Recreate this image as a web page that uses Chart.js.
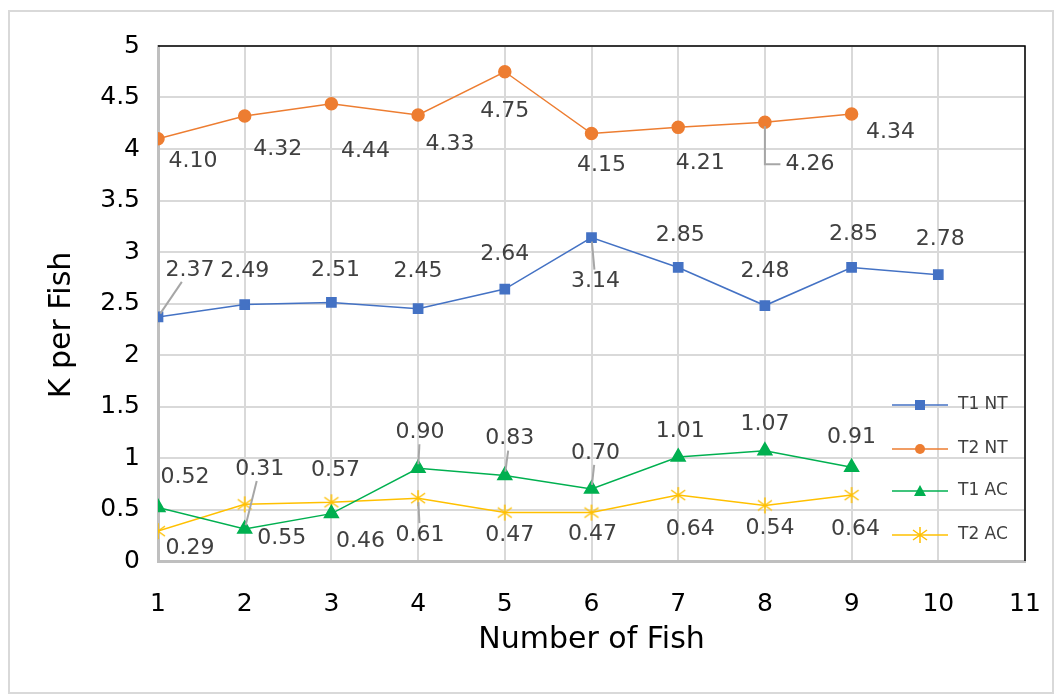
<!DOCTYPE html>
<html>
<head>
<meta charset="utf-8">
<script src="https://cdn.jsdelivr.net/npm/chart.js@4"></script>
<style>
  html, body { margin: 0; padding: 0; background: #fff; }
  #wrap { position: relative; width: 1062px; height: 699px; }
  #frame { position: absolute; left: 8px; top: 10px; width: 1046px; height: 684px; border: 2px solid #d9d9d9; box-sizing: border-box; }
  canvas { position: absolute; left: 0; top: 0; }
</style>
</head>
<body>
<div id="wrap">
  <div id="frame"></div>
  <canvas id="fishChart" width="1062" height="699"></canvas>
</div>
<script>
const fishNumbers = [1, 2, 3, 4, 5, 6, 7, 8, 9, 10];
const t1NT = [2.37, 2.49, 2.51, 2.45, 2.64, 3.14, 2.85, 2.48, 2.85, 2.78];
const t2NT = [4.10, 4.32, 4.44, 4.33, 4.75, 4.15, 4.21, 4.26, 4.34];
const t1AC = [0.52, 0.31, 0.46, 0.90, 0.83, 0.70, 1.01, 1.07, 0.91];
const t2AC = [0.29, 0.55, 0.57, 0.61, 0.47, 0.47, 0.64, 0.54, 0.64];
const seriesNames = ["T1 NT", "T2 NT", "T1 AC", "T2 AC"];

// label offsets from the point (px) and leader style: 0 none, 1 straight, 2 elbow
const labelOffsets = [
  [[32, -47], [0, -33], [4, -32], [0, -37], [0, -35], [4, 44], [2, -32], [0, -34], [2, -33], [2, -35]],
  [[35, 23], [33, 33], [34, 48], [32, 29], [0, 40], [10, 32], [22, 36], [45, 42], [39, 18]],
  [[27, -30], [15, -60], [29, 28], [2, -36], [5, -37], [4, -36], [2, -26], [0, -27], [0, -30]],
  [[32, 17], [37, 34], [4, -32], [2, 37], [5, 23], [1, 22], [12, 34], [5, 23], [4, 34]]
];
const leaders = [
  [1, 0, 0, 0, 0, 1, 0, 0, 0, 0],
  [0, 0, 0, 0, 0, 0, 0, 2, 0],
  [0, 1, 0, 1, 1, 1, 0, 0, 0],
  [0, 0, 0, 1, 0, 0, 0, 0, 0]
];

function toPoints(values) {
  return values.map((v, i) => ({ x: fishNumbers[i], y: v }));
}

// excel-like star marker: vertical bar plus an X
function starMarker(color) {
  const c = document.createElement("canvas");
  c.width = 18; c.height = 18;
  const g = c.getContext("2d");
  g.strokeStyle = color;
  g.lineWidth = 1.5;
  g.beginPath();
  g.moveTo(9, 1); g.lineTo(9, 17);
  g.moveTo(2, 4); g.lineTo(16, 14);
  g.moveTo(16, 4); g.lineTo(2, 14);
  g.stroke();
  return c;
}

const fontFamily = "'DejaVu Sans', Verdana, sans-serif";

const labelPlugin = {
  id: "pointLabels",
  afterDatasetsDraw(chart) {
    const ctx = chart.ctx;
    ctx.save();
    ctx.font = "22px " + fontFamily;
    ctx.textAlign = "center";
    ctx.textBaseline = "middle";
    chart.data.datasets.forEach((ds, di) => {
      const meta = chart.getDatasetMeta(di);
      meta.data.forEach((pt, j) => {
        const off = labelOffsets[di][j];
        const text = ds.data[j].y.toFixed(2);
        const lx = pt.x + off[0];
        const ly = pt.y + off[1];
        const hw = ctx.measureText(text).width / 2 + 3;
        const hh = 12;
        const lead = leaders[di][j];
        ctx.strokeStyle = "#a6a6a6";
        ctx.lineWidth = 2;
        if (lead === 1) {
          const dx = pt.x - lx, dy = pt.y - ly;
          const s = Math.min(Math.abs(hw / (dx || 1e-6)), Math.abs(hh / (dy || 1e-6)));
          const ex = lx + dx * s, ey = ly + dy * s;
          const len = Math.hypot(ex - pt.x, ey - pt.y);
          const sx = pt.x + (ex - pt.x) * (4 / len), sy = pt.y + (ey - pt.y) * (4 / len);
          ctx.beginPath();
          ctx.moveTo(sx, sy);
          ctx.lineTo(ex, ey);
          ctx.stroke();
        } else if (lead === 2) {
          ctx.beginPath();
          ctx.moveTo(pt.x, pt.y + 4);
          ctx.lineTo(pt.x, ly);
          ctx.lineTo(lx - hw - 2, ly);
          ctx.stroke();
        }
        ctx.fillStyle = "#404040";
        ctx.fillText(text, lx, ly);
      });
    });
    ctx.restore();
  }
};

const framePlugin = {
  id: "frameAndLegend",
  afterDraw(chart) {
    const ctx = chart.ctx;
    const a = chart.chartArea;
    ctx.save();
    // top and right border
    ctx.strokeStyle = "#000";
    ctx.lineWidth = 1.5;
    ctx.beginPath();
    ctx.moveTo(a.left, a.top);
    ctx.lineTo(a.right, a.top);
    ctx.lineTo(a.right, a.bottom);
    ctx.stroke();
    // axis titles
    ctx.fillStyle = "#000";
    ctx.font = "30px " + fontFamily;
    ctx.textAlign = "center";
    ctx.textBaseline = "middle";
    ctx.fillText("Number of Fish", (a.left + a.right) / 2, 640);
    ctx.translate(62, 325);
    ctx.rotate(-Math.PI / 2);
    ctx.fillText("K per Fish", 0, 0);
    ctx.restore();

    // legend inside the plot
    ctx.save();
    ctx.font = "17px " + fontFamily;
    ctx.textBaseline = "middle";
    ctx.textAlign = "left";
    const rows = [405, 449, 491, 535];
    chart.data.datasets.forEach((ds, i) => {
      const y = rows[i];
      ctx.strokeStyle = ds.borderColor;
      ctx.lineWidth = 1.5;
      ctx.beginPath();
      ctx.moveTo(892, y);
      ctx.lineTo(948, y);
      ctx.stroke();
      ctx.fillStyle = ds.borderColor;
      if (i === 0) {
        ctx.fillRect(915, y - 5, 10, 10);
      } else if (i === 1) {
        ctx.beginPath(); ctx.arc(920, y, 5, 0, Math.PI * 2); ctx.fill();
      } else if (i === 2) {
        ctx.beginPath(); ctx.moveTo(920, y - 6); ctx.lineTo(926, y + 5); ctx.lineTo(914, y + 5); ctx.closePath(); ctx.fill();
      } else {
        ctx.drawImage(starMarker(ds.borderColor), 911, y - 9);
      }
      ctx.fillStyle = "#404040";
      ctx.fillText(seriesNames[i], 958, y);
    });
    ctx.restore();
  }
};

const ctx = document.getElementById("fishChart").getContext("2d");

new Chart(ctx, {
  type: "line",
  data: {
    datasets: [
      {
        label: seriesNames[0],
        data: toPoints(t1NT),
        borderColor: "#4472c4",
        backgroundColor: "#4472c4",
        borderWidth: 1.5,
        pointStyle: "rect",
        pointRadius: 6.5,
      },
      {
        label: seriesNames[1],
        data: toPoints(t2NT),
        borderColor: "#ed7d31",
        backgroundColor: "#ed7d31",
        borderWidth: 1.5,
        pointStyle: "circle",
        pointRadius: 6,
      },
      {
        label: seriesNames[2],
        data: toPoints(t1AC),
        borderColor: "#00b050",
        backgroundColor: "#00b050",
        borderWidth: 1.5,
        pointStyle: "triangle",
        pointRadius: 8,
      },
      {
        label: seriesNames[3],
        data: toPoints(t2AC),
        borderColor: "#ffc000",
        backgroundColor: "#ffc000",
        borderWidth: 1.5,
        pointStyle: starMarker("#ffc000"),
      },
    ],
  },
  options: {
    responsive: false,
    animation: false,
    layout: { padding: { left: 0, right: 37, top: 46, bottom: 0 } },
    plugins: {
      legend: { display: false },
      tooltip: { enabled: false },
    },
    scales: {
      x: {
        type: "linear",
        min: 1,
        max: 11,
        ticks: { stepSize: 1, color: "#000", font: { family: fontFamily, size: 25 }, padding: 28 },
        grid: { color: "#d9d9d9", lineWidth: 2, drawTicks: false },
        border: { color: "#bfbfbf", width: 3 },
        afterFit(scale) {
          scale.height = 138;
          scale.paddingLeft = 0;
          scale.paddingRight = 0;
        },
      },
      y: {
        min: 0,
        max: 5,
        ticks: {
          stepSize: 0.5,
          color: "#000",
          font: { family: fontFamily, size: 25 },
          padding: 18,
          callback: (v) => String(v),
        },
        grid: { color: "#d9d9d9", lineWidth: 2, drawTicks: false },
        border: { color: "#bfbfbf", width: 3 },
        afterFit(scale) {
          scale.width = 158;
          scale.paddingTop = 0;
          scale.paddingBottom = 0;
        },
      },
    },
  },
  plugins: [labelPlugin, framePlugin],
});
</script>
</body>
</html>
